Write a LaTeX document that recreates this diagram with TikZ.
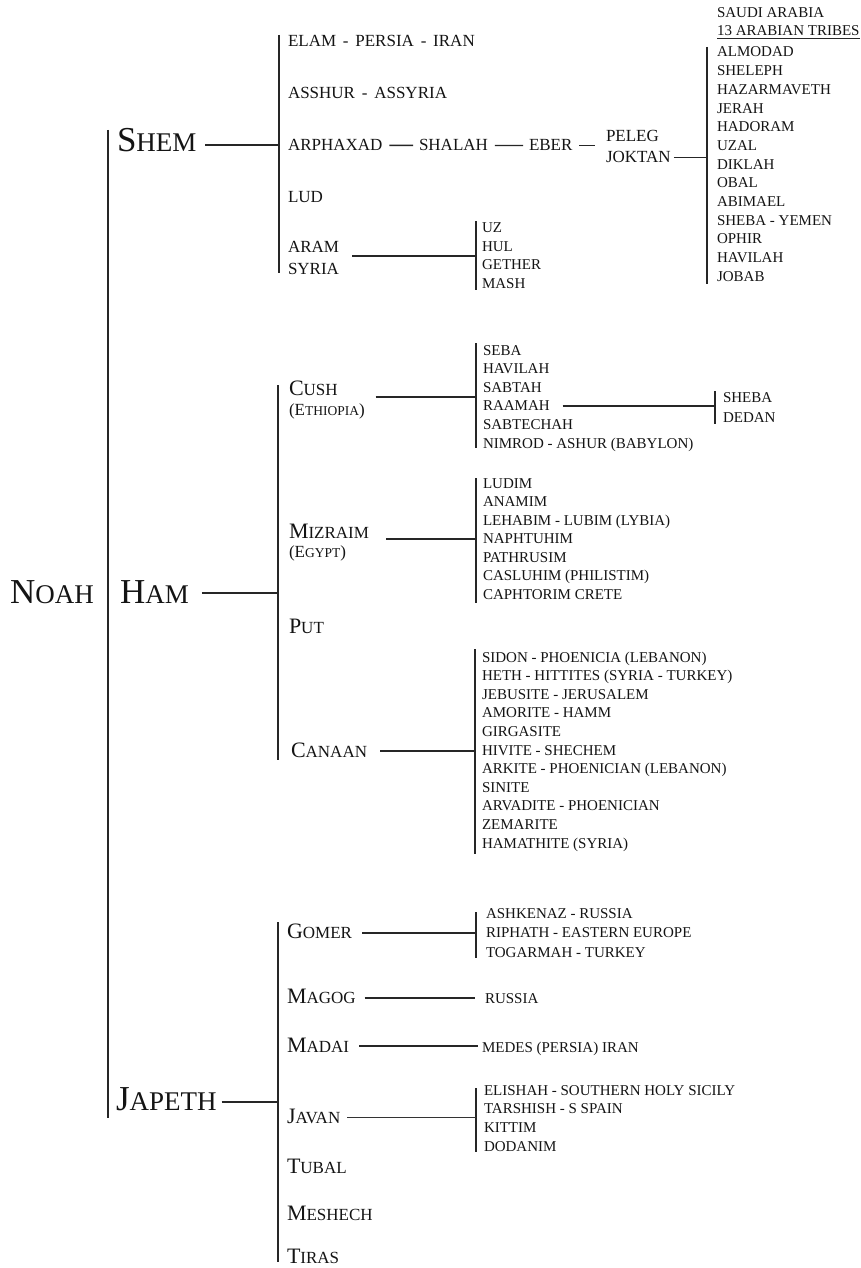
\documentclass[tikz,border=0pt]{standalone}
\usepackage{fontspec}
\setmainfont{Liberation Serif}
\newcommand\fs[1]{\fontsize{#1}{#1}\selectfont}
\newcommand\bigsc[2]{{\fs{35}#1}{\fs{27}#2}}
\newcommand\medsc[2]{{\fs{22}#1}{\fs{17}#2}}
\newcommand\parsc[2]{{\fs{17}(#1}{\fs{13.5}#2}{\fs{17})}}
\newcommand\hy{\hspace{.4em}-\hspace{.4em}}
\begin{document}
\begin{tikzpicture}[x=1pt,y=-1pt,
  tx/.style={anchor=base west, inner sep=0pt, outer sep=0pt, text=black!92},
  son/.style={tx, font=\fs{17}},
  kid/.style={tx, font=\fs{15}},
  ln/.style={line width=1.4pt, draw=black!85},
  thinln/.style={line width=0.7pt, draw=black!80},
  noahln/.style={line width=2.4pt, draw=black!85}]
\useasboundingbox (0,0) rectangle (861,1268);
\fill[white] (0,0) rectangle (861,1268);

% Noah and sons
\node[tx] (noah) at (10,603) {\bigsc{N}{OAH}};
\node[tx] (shem) at (117,152) {\bigsc{S}{HEM}};
\node[tx] (ham) at (120,603) {\bigsc{H}{AM}};
\node[tx] (japeth) at (116,1110) {\bigsc{J}{APETH}};
\coordinate (noahT) at (108,130);
\coordinate (noahB) at (108,1118);
\draw[noahln] (noahT) -- (noahB);

% ---------------- SHEM ----------------
\coordinate (shT) at (279,35);
\coordinate (shB) at (279,273);
\coordinate (shJ) at (279,145);
\draw[ln] (shT) -- (shB);
\draw[ln, shorten <=9pt] (shem.east |- shJ) -- (shJ);
\node[son] (elam) at (288,47) {ELAM\hy PERSIA\hy IRAN};
\node[son] (asshur) at (288,99) {ASSHUR\hy ASSYRIA};
\node[son] (arph) at (288,151) {ARPHAXAD};
\node[son] (shalah) at (419,151) {SHALAH};
\node[son] (eber) at (529,151) {EBER};
\node[son] (peleg) at (606,142) {PELEG};
\node[son] (joktan) at (606,163) {JOKTAN};
\node[son] (lud) at (288,203) {LUD};
\node[son] (aram) at (288,252) {ARAM};
\node[son] (syria) at (288,274) {SYRIA};
\draw[ln, shorten <=7pt, shorten >=6pt] (arph.east) -- (shalah.west);
\draw[ln, shorten <=7pt, shorten >=6pt] (shalah.east) -- (eber.west);
\draw[ln, shorten <=7pt, shorten >=11pt] (eber.east) -- (eber.east -| peleg.west);

% Joktan's sons
\coordinate (jkT) at (707,47);
\coordinate (jkB) at (707,284);
\draw[ln] (jkT) -- (jkB);
\draw[ln, shorten <=3pt] (joktan.east) -- (joktan.east -| jkT);
\node[kid] (saudi) at (717,18) {SAUDI ARABIA};
\node[kid] (tribes) at (717,36) {13 ARABIAN TRIBES};
\draw[line width=0.9pt, draw=black!85] ([yshift=-2.5pt]tribes.base west) -- ([yshift=-2.5pt]tribes.base east);
\foreach \t [count=\i from 0] in {ALMODAD,SHELEPH,HAZARMAVETH,JERAH,HADORAM,UZAL,DIKLAH,OBAL,ABIMAEL,SHEBA - YEMEN,OPHIR,HAVILAH,JOBAB}
  \node[kid] (jk\i) at (717,{57+\i*18.67}) {\t};

% Aram's sons
\coordinate (arT) at (476,221);
\coordinate (arB) at (476,290);
\coordinate (arJ) at (476,256);
\draw[ln] (arT) -- (arB);
\draw[ln, shorten <=13pt] (aram.east |- arJ) -- (arJ);
\foreach \t [count=\i from 0] in {UZ,HUL,GETHER,MASH}
  \node[kid] (ar\i) at (482,{233+\i*18.4}) {\t};

% ---------------- HAM ----------------
\coordinate (hmT) at (278,385);
\coordinate (hmB) at (278,760);
\coordinate (hmJ) at (278,593);
\draw[ln] (hmT) -- (hmB);
\draw[ln, shorten <=13pt] (ham.east |- hmJ) -- (hmJ);
\node[tx] (cush) at (289,395) {\medsc{C}{USH}};
\node[tx] (ethiopia) at (289,415) {\parsc{E}{THIOPIA}};
\node[tx] (mizraim) at (289,538) {\medsc{M}{IZRAIM}};
\node[tx] (egypt) at (289,557) {\parsc{E}{GYPT}};
\node[tx] (put) at (289,633) {\medsc{P}{UT}};
\node[tx] (canaan) at (291,757) {\medsc{C}{ANAAN}};

% Cush's sons
\coordinate (cuT) at (476,343);
\coordinate (cuB) at (476,448);
\coordinate (cuJ) at (476,397);
\draw[ln] (cuT) -- (cuB);
\draw[ln, shorten <=11pt] (ethiopia.east |- cuJ) -- (cuJ);
\foreach \t [count=\i from 0] in {SEBA,HAVILAH,SABTAH,RAAMAH,SABTECHAH,NIMROD - ASHUR (BABYLON)}
  \node[kid] (cu\i) at (483,{355+\i*18.6}) {\t};
\coordinate (rmT) at (715,391);
\coordinate (rmB) at (715,424);
\draw[ln] (rmT) -- (rmB);
\draw[ln, shorten <=13pt] (cu3.east) -- (cu3.east -| rmT);
\node[kid] (sheba) at (723,402) {SHEBA};
\node[kid] (dedan) at (723,422) {DEDAN};

% Mizraim's sons
\coordinate (mzT) at (476,478);
\coordinate (mzB) at (476,603);
\coordinate (mzJ) at (476,539);
\draw[ln] (mzT) -- (mzB);
\draw[ln, shorten <=17pt] (mizraim.east |- mzJ) -- (mzJ);
\foreach \t [count=\i from 0] in {LUDIM,ANAMIM,LEHABIM - LUBIM (LYBIA),NAPHTUHIM,PATHRUSIM,CASLUHIM (PHILISTIM),CAPHTORIM CRETE}
  \node[kid] (mz\i) at (483,{488+\i*18.5}) {\t};

% Canaan's sons
\coordinate (cnT) at (475,649);
\coordinate (cnB) at (475,854);
\coordinate (cnJ) at (475,751);
\draw[ln] (cnT) -- (cnB);
\draw[ln, shorten <=13pt] (canaan.east |- cnJ) -- (cnJ);
\foreach \t [count=\i from 0] in {SIDON - PHOENICIA (LEBANON),HETH - HITTITES (SYRIA - TURKEY),JEBUSITE - JERUSALEM,AMORITE - HAMM,GIRGASITE,HIVITE - SHECHEM,ARKITE - PHOENICIAN (LEBANON),SINITE,ARVADITE - PHOENICIAN,ZEMARITE,HAMATHITE (SYRIA)}
  \node[kid] (cn\i) at (482,{662+\i*18.6}) {\t};

% ---------------- JAPETH ----------------
\coordinate (jpT) at (278,922);
\coordinate (jpB) at (278,1262);
\coordinate (jpJ) at (278,1102);
\draw[ln] (jpT) -- (jpB);
\draw[ln, shorten <=5pt] (japeth.east |- jpJ) -- (jpJ);
\node[tx] (gomer) at (287,938) {\medsc{G}{OMER}};
\node[tx] (magog) at (287,1003) {\medsc{M}{AGOG}};
\node[tx] (madai) at (287,1052) {\medsc{M}{ADAI}};
\node[tx] (javan) at (287,1123) {\medsc{J}{AVAN}};
\node[tx] (tubal) at (287,1173) {\medsc{T}{UBAL}};
\node[tx] (meshech) at (287,1220) {\medsc{M}{ESHECH}};
\node[tx] (tiras) at (287,1263) {\medsc{T}{IRAS}};

% Gomer's sons
\coordinate (gmT) at (476,912);
\coordinate (gmB) at (476,958);
\coordinate (gmJ) at (476,933);
\draw[ln] (gmT) -- (gmB);
\draw[ln, shorten <=10pt] (gomer.east |- gmJ) -- (gmJ);
\foreach \t [count=\i from 0] in {ASHKENAZ - RUSSIA,RIPHATH - EASTERN EUROPE,TOGARMAH - TURKEY}
  \node[kid] (gm\i) at (486,{918+\i*19.5}) {\t};

% Magog, Madai
\node[kid] (russia) at (485,1003) {RUSSIA};
\draw[ln, shorten <=9pt, shorten >=10pt] (magog.east |- russia.west) -- (russia.west);
\node[kid] (medes) at (482,1052) {MEDES (PERSIA) IRAN};
\coordinate (mdJ) at (478,1046);
\draw[ln, line width=1.7pt, shorten <=10pt] (madai.east |- mdJ) -- (mdJ);

% Javan's sons
\coordinate (jvT) at (476,1088);
\coordinate (jvB) at (476,1152);
\coordinate (jvJ) at (476,1117);
\draw[ln] (jvT) -- (jvB);
\draw[thinln, shorten <=7pt] (javan.east |- jvJ) -- (jvJ);
\foreach \t [count=\i from 0] in {ELISHAH - SOUTHERN HOLY SICILY,TARSHISH - S SPAIN,KITTIM,DODANIM}
  \node[kid] (jv\i) at (484,{1095+\i*18.7}) {\t};
\end{tikzpicture}
\end{document}
